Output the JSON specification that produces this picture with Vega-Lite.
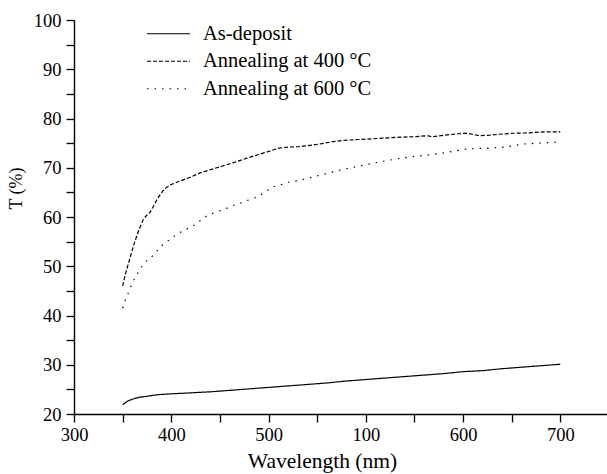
{
  "$schema": "https://vega.github.io/schema/vega-lite/v6.json",
  "width": 533,
  "height": 394,
  "autosize": "none",
  "padding": {"left": 74, "top": 20, "right": 0, "bottom": 60},
  "background": "white",
  "config": {
    "view": {"stroke": null},
    "font": "Liberation Serif",
    "axis": {"grid": false, "ticks": true, "domainColor": "black", "tickColor": "black", "labelColor": "black", "titleColor": "black", "labelFont": "Liberation Serif", "titleFont": "Liberation Serif", "titleFontWeight": "normal", "labelFontSize": 18.5, "titleFontSize": 21.5, "domainWidth": 1.4, "tickWidth": 1.3, "tickSize": 8},
    "legend": {"labelFont": "Liberation Serif", "labelFontSize": 20.5, "labelColor": "black", "labelLimit": 0}
  },
  "data": {"values": [
    {"w":350,"T":21.9,"s":"As-deposit"},{"w":355,"T":22.6,"s":"As-deposit"},{"w":360,"T":23.0,"s":"As-deposit"},{"w":367,"T":23.4,"s":"As-deposit"},{"w":375,"T":23.6,"s":"As-deposit"},{"w":385,"T":23.9,"s":"As-deposit"},{"w":400,"T":24.1,"s":"As-deposit"},{"w":420,"T":24.3,"s":"As-deposit"},{"w":440,"T":24.5,"s":"As-deposit"},{"w":460,"T":24.8,"s":"As-deposit"},{"w":480,"T":25.1,"s":"As-deposit"},{"w":500,"T":25.4,"s":"As-deposit"},{"w":520,"T":25.7,"s":"As-deposit"},{"w":540,"T":26.0,"s":"As-deposit"},{"w":560,"T":26.3,"s":"As-deposit"},{"w":580,"T":26.7,"s":"As-deposit"},{"w":600,"T":27.0,"s":"As-deposit"},{"w":620,"T":27.3,"s":"As-deposit"},{"w":640,"T":27.6,"s":"As-deposit"},{"w":660,"T":27.9,"s":"As-deposit"},{"w":680,"T":28.2,"s":"As-deposit"},{"w":700,"T":28.6,"s":"As-deposit"},{"w":720,"T":28.8,"s":"As-deposit"},{"w":740,"T":29.2,"s":"As-deposit"},{"w":760,"T":29.5,"s":"As-deposit"},{"w":780,"T":29.8,"s":"As-deposit"},{"w":800,"T":30.1,"s":"As-deposit"},
    {"w":350,"T":46.0,"s":"Annealing at 400 °C"},{"w":353,"T":48.5,"s":"Annealing at 400 °C"},{"w":357,"T":51.3,"s":"Annealing at 400 °C"},{"w":362,"T":54.7,"s":"Annealing at 400 °C"},{"w":367,"T":57.5,"s":"Annealing at 400 °C"},{"w":371,"T":59.4,"s":"Annealing at 400 °C"},{"w":375,"T":60.4,"s":"Annealing at 400 °C"},{"w":378,"T":60.9,"s":"Annealing at 400 °C"},{"w":382,"T":62.3,"s":"Annealing at 400 °C"},{"w":386,"T":63.8,"s":"Annealing at 400 °C"},{"w":391,"T":65.2,"s":"Annealing at 400 °C"},{"w":395,"T":66.0,"s":"Annealing at 400 °C"},{"w":400,"T":66.6,"s":"Annealing at 400 °C"},{"w":409,"T":67.3,"s":"Annealing at 400 °C"},{"w":420,"T":68.1,"s":"Annealing at 400 °C"},{"w":429,"T":68.9,"s":"Annealing at 400 °C"},{"w":440,"T":69.6,"s":"Annealing at 400 °C"},{"w":450,"T":70.2,"s":"Annealing at 400 °C"},{"w":465,"T":71.1,"s":"Annealing at 400 °C"},{"w":477,"T":71.9,"s":"Annealing at 400 °C"},{"w":490,"T":72.7,"s":"Annealing at 400 °C"},{"w":500,"T":73.3,"s":"Annealing at 400 °C"},{"w":511,"T":74.0,"s":"Annealing at 400 °C"},{"w":520,"T":74.2,"s":"Annealing at 400 °C"},{"w":532,"T":74.3,"s":"Annealing at 400 °C"},{"w":545,"T":74.6,"s":"Annealing at 400 °C"},{"w":555,"T":74.9,"s":"Annealing at 400 °C"},{"w":566,"T":75.3,"s":"Annealing at 400 °C"},{"w":580,"T":75.6,"s":"Annealing at 400 °C"},{"w":600,"T":75.8,"s":"Annealing at 400 °C"},{"w":617,"T":76.0,"s":"Annealing at 400 °C"},{"w":635,"T":76.2,"s":"Annealing at 400 °C"},{"w":650,"T":76.3,"s":"Annealing at 400 °C"},{"w":664,"T":76.5,"s":"Annealing at 400 °C"},{"w":668,"T":76.3,"s":"Annealing at 400 °C"},{"w":680,"T":76.6,"s":"Annealing at 400 °C"},{"w":695,"T":76.9,"s":"Annealing at 400 °C"},{"w":703,"T":77.0,"s":"Annealing at 400 °C"},{"w":710,"T":76.8,"s":"Annealing at 400 °C"},{"w":717,"T":76.5,"s":"Annealing at 400 °C"},{"w":727,"T":76.6,"s":"Annealing at 400 °C"},{"w":737,"T":76.8,"s":"Annealing at 400 °C"},{"w":752,"T":77.0,"s":"Annealing at 400 °C"},{"w":768,"T":77.1,"s":"Annealing at 400 °C"},{"w":785,"T":77.3,"s":"Annealing at 400 °C"},{"w":800,"T":77.3,"s":"Annealing at 400 °C"},
    {"w":350,"T":41.5,"s":"Annealing at 600 °C"},{"w":353,"T":43.3,"s":"Annealing at 600 °C"},{"w":356.5,"T":44.9,"s":"Annealing at 600 °C"},{"w":360,"T":46.7,"s":"Annealing at 600 °C"},{"w":364.7,"T":48.3,"s":"Annealing at 600 °C"},{"w":369,"T":49.8,"s":"Annealing at 600 °C"},{"w":374,"T":51.0,"s":"Annealing at 600 °C"},{"w":382,"T":52.3,"s":"Annealing at 600 °C"},{"w":389,"T":54.0,"s":"Annealing at 600 °C"},{"w":397,"T":55.2,"s":"Annealing at 600 °C"},{"w":405,"T":56.4,"s":"Annealing at 600 °C"},{"w":413,"T":57.3,"s":"Annealing at 600 °C"},{"w":422,"T":58.1,"s":"Annealing at 600 °C"},{"w":430,"T":59.3,"s":"Annealing at 600 °C"},{"w":438,"T":60.4,"s":"Annealing at 600 °C"},{"w":446,"T":61.0,"s":"Annealing at 600 °C"},{"w":455,"T":61.6,"s":"Annealing at 600 °C"},{"w":463,"T":62.3,"s":"Annealing at 600 °C"},{"w":472,"T":62.9,"s":"Annealing at 600 °C"},{"w":480,"T":63.5,"s":"Annealing at 600 °C"},{"w":489,"T":64.1,"s":"Annealing at 600 °C"},{"w":497,"T":65.2,"s":"Annealing at 600 °C"},{"w":506,"T":66.2,"s":"Annealing at 600 °C"},{"w":515,"T":66.7,"s":"Annealing at 600 °C"},{"w":523,"T":67.2,"s":"Annealing at 600 °C"},{"w":532,"T":67.4,"s":"Annealing at 600 °C"},{"w":541,"T":67.9,"s":"Annealing at 600 °C"},{"w":549,"T":68.3,"s":"Annealing at 600 °C"},{"w":561,"T":68.9,"s":"Annealing at 600 °C"},{"w":575,"T":69.6,"s":"Annealing at 600 °C"},{"w":590,"T":70.2,"s":"Annealing at 600 °C"},{"w":600,"T":70.6,"s":"Annealing at 600 °C"},{"w":617,"T":71.3,"s":"Annealing at 600 °C"},{"w":635,"T":71.9,"s":"Annealing at 600 °C"},{"w":650,"T":72.3,"s":"Annealing at 600 °C"},{"w":669,"T":72.7,"s":"Annealing at 600 °C"},{"w":686,"T":73.2,"s":"Annealing at 600 °C"},{"w":703,"T":73.8,"s":"Annealing at 600 °C"},{"w":715,"T":73.9,"s":"Annealing at 600 °C"},{"w":727,"T":74.0,"s":"Annealing at 600 °C"},{"w":744,"T":74.2,"s":"Annealing at 600 °C"},{"w":761,"T":74.8,"s":"Annealing at 600 °C"},{"w":778,"T":75.0,"s":"Annealing at 600 °C"},{"w":796,"T":75.2,"s":"Annealing at 600 °C"},{"w":800,"T":75.3,"s":"Annealing at 600 °C"}
  ]},
  "mark": {"type": "line", "color": "black", "strokeWidth": 1.2, "clip": true},
  "encoding": {
    "x": {"field": "w", "type": "quantitative", "scale": {"domain": [300, 848], "nice": false, "zero": false},
      "axis": {"title": "Wavelength (nm)", "values": [300,350,400,450,500,550,600,650,700,750,800],
        "labelExpr": "datum.value == 600 ? '100' : datum.value == 700 ? '600' : datum.value == 800 ? '700' : (datum.value % 100 == 0 ? datum.label : '')",
        "ticks": true, "tickSize": 8,
        "encode": {"ticks": {"update": {"y2": {"signal": "datum.value % 100 == 0 ? 8 : 5"}}}},
        "labelPadding": 3, "titlePadding": 7, "titleX": 248, "titleAlign": "center", "labelFlush": false, "labelOverlap": false}},
    "y": {"field": "T", "type": "quantitative", "scale": {"domain": [20, 100], "nice": false, "zero": false},
      "axis": {"title": "T (%)", "values": [20,25,30,35,40,45,50,55,60,65,70,75,80,85,90,95,100],
        "labelExpr": "datum.value % 10 == 0 ? datum.label : ''",
        "ticks": true, "tickSize": 8,
        "encode": {"ticks": {"update": {"x2": {"signal": "datum.value % 10 == 0 ? -8 : -5"}}}},
        "labelPadding": 5, "labelOverlap": false, "labelFlush": false, "titleFontSize": 18,
        "titleX": -58, "titleY": 168, "titleAngle": -90, "titleAlign": "center", "titleBaseline": "middle"}},
    "strokeDash": {"field": "s", "type": "nominal",
      "scale": {"domain": ["As-deposit", "Annealing at 400 °C", "Annealing at 600 °C"], "range": [[1, 0], [4, 2], [1.5, 6]]},
      "legend": {"title": null, "orient": "none", "legendX": 83.5, "legendY": 2.75, "symbolType": "M-2.15,0H2.15", "symbolSize": 400, "symbolFillColor": "transparent", "symbolStrokeColor": "black", "symbolStrokeWidth": 1.2, "rowPadding": 5.5, "labelOffset": 23.5, "labelLimit": 0}}
  }
}
